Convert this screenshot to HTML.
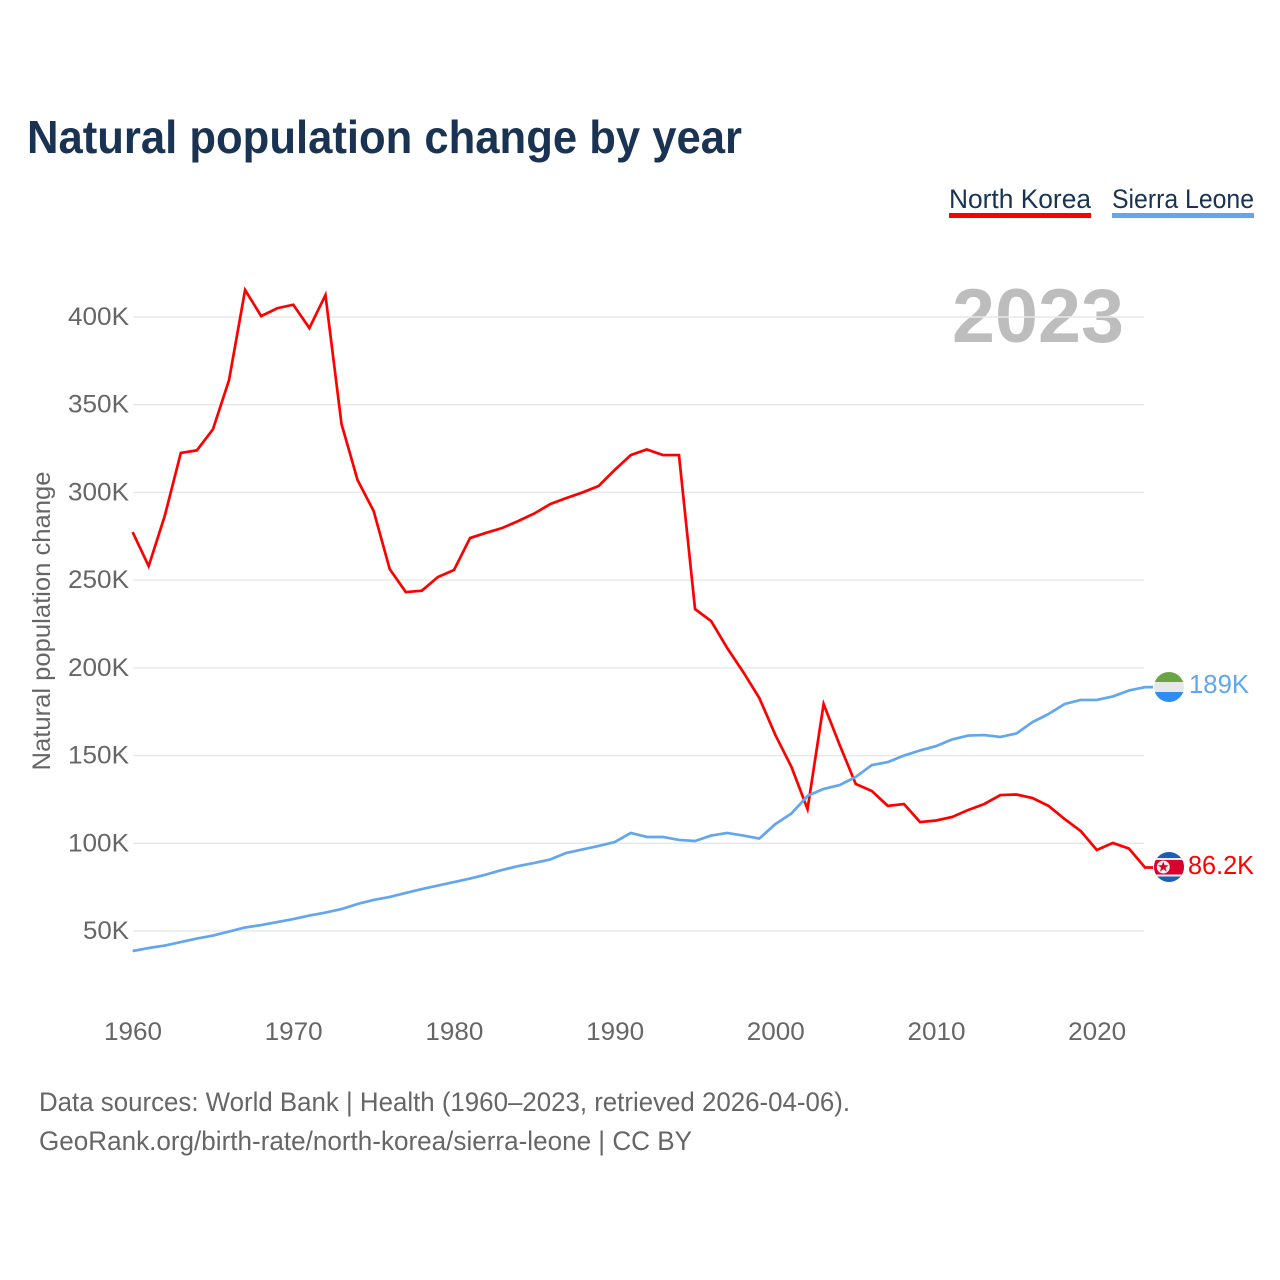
<!DOCTYPE html>
<html lang="en">
<head>
<meta charset="utf-8">
<title>Natural population change by year</title>
<style>
html,body{margin:0;padding:0;background:#fff;}
svg{display:block;font-family:"Liberation Sans",sans-serif;}
</style>
</head>
<body>
<svg id="chart" xmlns="http://www.w3.org/2000/svg" width="1280" height="1280" viewBox="0 0 1280 1280">
  <defs>
    <clipPath id="clip-sl"><circle cx="1169" cy="687" r="15"/></clipPath>
    <clipPath id="clip-nk"><circle cx="1169" cy="867" r="15"/></clipPath>
  </defs>
  <rect width="1280" height="1280" fill="#ffffff"/>
  <text x="27" y="153" font-size="46" font-weight="700" fill="#1a3353" textLength="715" lengthAdjust="spacingAndGlyphs">Natural population change by year</text>

  <g>
    <text x="949" y="208" font-size="27" fill="#1a3353" textLength="142" lengthAdjust="spacingAndGlyphs">North Korea</text>
    <rect x="949" y="213" width="142" height="5" fill="#ff0000"/>
  </g>
  <g>
    <text x="1112" y="208" font-size="27" fill="#1a3353" textLength="142" lengthAdjust="spacingAndGlyphs">Sierra Leone</text>
    <rect x="1112" y="213" width="142" height="5" fill="#62a6ee"/>
  </g>

  <text x="1124" y="342" font-size="76" font-weight="700" fill="#bdbdbd" text-anchor="end" textLength="172" lengthAdjust="spacingAndGlyphs">2023</text>

  <g id="grid"></g>
  <g id="y-ticks"></g>
  <g id="x-ticks"></g>
  <g id="series"></g>

  <text transform="translate(50,621) rotate(-90)" font-size="25" fill="#666666" text-anchor="middle" textLength="299" lengthAdjust="spacingAndGlyphs">Natural population change</text>

  <g id="flag-sierra-leone" clip-path="url(#clip-sl)">
    <rect x="1154" y="672" width="30" height="10" fill="#6aa545"/>
    <rect x="1154" y="682" width="30" height="10" fill="#e8e8e8"/>
    <rect x="1154" y="692" width="30" height="10" fill="#2f8cf2"/>
  </g>
  <g id="flag-north-korea" clip-path="url(#clip-nk)">
    <rect x="1154" y="852" width="30" height="30" fill="#1a5fb4"/>
    <rect x="1154" y="858" width="30" height="18.5" fill="#eeeeee"/>
    <rect x="1154" y="860" width="30" height="14.5" fill="#d8002c"/>
    <circle cx="1163.3" cy="867" r="6.5" fill="#eeeeee"/>
    <polygon points="1163.3,861.5 1164.7,865.2 1168.5,865.3 1165.5,867.7 1166.6,871.5 1163.3,869.3 1160,871.5 1161.1,867.7 1158.1,865.3 1161.9,865.2" fill="#d8002c"/>
  </g>

  <text x="1189" y="693" font-size="26" fill="#62a6ee" textLength="60" lengthAdjust="spacingAndGlyphs">189K</text>
  <text x="1188" y="874" font-size="26" fill="#ff0000" textLength="66" lengthAdjust="spacingAndGlyphs">86.2K</text>

  <text x="39" y="1111" font-size="26.5" fill="#666666" textLength="811" lengthAdjust="spacingAndGlyphs">Data sources: World Bank | Health (1960–2023, retrieved 2026-04-06).</text>
  <text x="39" y="1150" font-size="26.5" fill="#666666" textLength="653" lengthAdjust="spacingAndGlyphs">GeoRank.org/birth-rate/north-korea/sierra-leone | CC BY</text>
</svg>
<script>
const startYear = 1960;
const northKorea = [277.4,258,286.6,322.5,324,336,364,415.4,400.5,405,407,393.7,412.5,339,307,289.4,256.3,243.2,244,251.8,255.8,274,277,279.7,283.7,288,293.4,296.8,300,303.7,312.8,321.3,324.5,321.3,321.3,233.5,226.7,211.3,197.6,182.8,161.7,143.5,119.5,179.4,156,133.8,129.8,121.3,122.4,112.1,113,115,119,122.4,127.5,127.8,125.8,121.3,113.8,107,96.2,100.2,97,86.2];
const sierraLeone = [38.6,40.3,41.7,43.7,45.7,47.4,49.7,52,53.4,55.1,56.8,58.8,60.5,62.5,65.4,67.7,69.4,71.7,73.9,75.9,77.9,79.9,82.2,84.8,87,88.8,90.8,94.5,96.5,98.5,100.7,105.9,103.6,103.6,101.9,101.3,104.4,105.9,104.4,102.7,111,117,127,131,133.2,137.8,144.6,146.3,150,152.9,155.4,159.2,161.4,161.7,160.6,162.6,169.1,173.7,179.4,181.7,181.7,183.7,187.1,189];
const yTickValues = [50,100,150,200,250,300,350,400];
const yTickLabels = ["50K","100K","150K","200K","250K","300K","350K","400K"];
const xTickYears = [1960,1970,1980,1990,2000,2010,2020];

const NS = "http://www.w3.org/2000/svg";
function xScale(year){ return 132.6 + (year - 1960) * 16.07; }
function yScale(v){ return 931 - (v - 50) * (614 / 350); }

const grid = document.getElementById("grid");
const yTicks = document.getElementById("y-ticks");
const xTicks = document.getElementById("x-ticks");
const series = document.getElementById("series");

yTickValues.forEach(function(v, i){
  const line = document.createElementNS(NS, "line");
  line.setAttribute("x1", 133);
  line.setAttribute("x2", 1144);
  line.setAttribute("y1", yScale(v));
  line.setAttribute("y2", yScale(v));
  line.setAttribute("stroke", "#e9e9e9");
  line.setAttribute("stroke-width", "1.5");
  
  
  grid.appendChild(line);

  const t = document.createElementNS(NS, "text");
  t.setAttribute("x", 129);
  t.setAttribute("y", yScale(v) + 8);
  t.setAttribute("text-anchor", "end");
  t.setAttribute("font-size", "25");
  t.setAttribute("fill", "#666666");
  t.setAttribute("textLength", yTickLabels[i].length === 3 ? 46 : 61);
  t.setAttribute("lengthAdjust", "spacingAndGlyphs");
  
  
  t.textContent = yTickLabels[i];
  yTicks.appendChild(t);
});

xTickYears.forEach(function(year){
  const t = document.createElementNS(NS, "text");
  t.setAttribute("x", xScale(year) + 0.4);
  t.setAttribute("y", 1040);
  t.setAttribute("text-anchor", "middle");
  t.setAttribute("font-size", "25");
  t.setAttribute("fill", "#666666");
  t.setAttribute("textLength", 58);
  t.setAttribute("lengthAdjust", "spacingAndGlyphs");
  
  
  t.textContent = year;
  xTicks.appendChild(t);
});

function pointsFor(values){
  return values.map(function(v, i){
    return xScale(startYear + i).toFixed(2) + "," + yScale(v).toFixed(2);
  });
}

const redPath = document.createElementNS(NS, "polyline");
redPath.setAttribute("points", pointsFor(northKorea).concat([(xScale(startYear + northKorea.length - 1) + 8).toFixed(2) + "," + yScale(northKorea[northKorea.length - 1]).toFixed(2)]).join(" "));
redPath.setAttribute("fill", "none");
redPath.setAttribute("stroke", "#ff0000");
redPath.setAttribute("stroke-width", "2.7");
redPath.setAttribute("stroke-linejoin", "miter");


series.appendChild(redPath);

const bluePath = document.createElementNS(NS, "polyline");
bluePath.setAttribute("points", pointsFor(sierraLeone).concat([(xScale(startYear + sierraLeone.length - 1) + 8).toFixed(2) + "," + yScale(sierraLeone[sierraLeone.length - 1]).toFixed(2)]).join(" "));
bluePath.setAttribute("fill", "none");
bluePath.setAttribute("stroke", "#62a6ee");
bluePath.setAttribute("stroke-width", "2.7");
bluePath.setAttribute("stroke-linejoin", "round");


series.appendChild(bluePath);
</script>
</body>
</html>
